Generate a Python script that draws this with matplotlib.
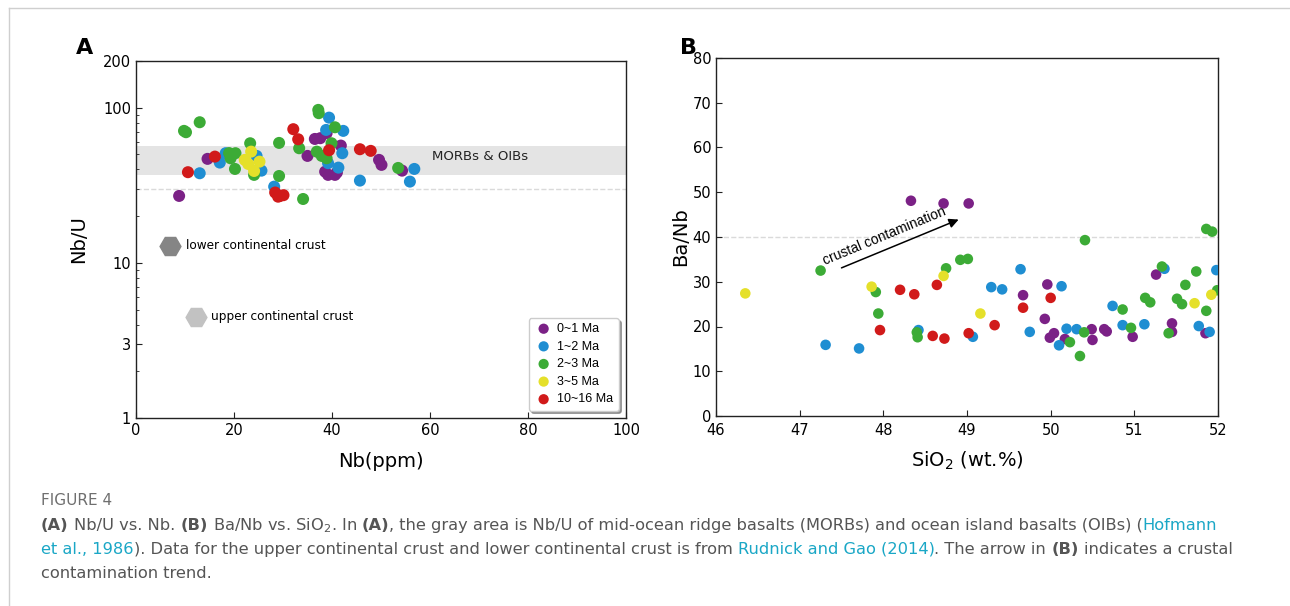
import numpy as np
import matplotlib.pyplot as plt
from matplotlib import font_manager
from matplotlib.lines import Line2D
from matplotlib.ticker import FixedLocator, LogLocator, NullFormatter, FuncFormatter

# ---- data, panel A (Nb vs Nb/U) ----
age_labels = ['0~1 Ma', '1~2 Ma', '2~3 Ma', '3~5 Ma', '10~16 Ma']
age_colors = ['#7b2186', '#1f8ed2', '#3cab36', '#e5e02a', '#d11a1a']

a_p_nb = [8.8, 14.6, 35.0, 36.5, 37.6, 38.9, 41.8, 38.6, 39.2, 40.6, 41.0, 49.6, 50.1, 54.3]
a_p_nbu = [27.0, 46.8, 48.9, 62.9, 63.6, 68.5, 57.0, 38.7, 36.9, 36.9, 38.2, 46.1, 42.8, 39.3]
a_b_nb = [13.0, 17.1, 18.3, 24.6, 25.6, 28.2, 38.8, 39.4, 42.3, 42.1, 39.2, 41.3, 45.7, 56.8, 55.9]
a_b_nbu = [37.8, 44.3, 50.9, 48.9, 39.3, 31.0, 71.9, 86.3, 70.9, 50.9, 43.9, 41.1, 33.9, 40.3, 33.4]
a_g_nb = [10.2, 9.8, 13.0, 19.3, 20.3, 20.2, 23.3, 24.1, 29.2, 29.2, 37.2, 37.3, 40.6, 39.9,
          33.3, 36.9, 37.9, 38.9, 34.1, 53.5, 19.0]
a_g_nbu = [69.5, 70.9, 80.6, 47.2, 50.9, 40.3, 59.0, 36.9, 59.3, 36.3, 96.8, 92.2, 74.8, 59.0,
           54.8, 52.1, 48.9, 47.2, 25.8, 40.9, 51.0]
a_y_nb = [22.2, 23.5, 25.2, 24.1, 22.9]
a_y_nbu = [46.1, 52.1, 44.9, 39.1, 43.4]
a_r_nb = [10.6, 16.1, 28.4, 29.0, 29.4, 30.1, 32.1, 33.1, 39.4, 45.7, 47.9]
a_r_nbu = [38.4, 48.4, 28.4, 26.7, 27.0, 27.3, 72.7, 62.6, 53.2, 54.0, 52.7]

morb_range = (37, 57)
a_ref_line = 30
lcc = (7.0, 12.9)
ucc = (12.2, 4.48)

# ---- data, panel B (SiO2 vs Ba/Nb) ----
b_p_si = [48.33, 48.72, 49.02, 49.96, 49.67, 49.93, 49.99, 50.04, 50.17, 50.49, 50.50, 50.64,
          50.67, 50.98, 51.26, 51.45, 51.45, 51.85]
b_p_ba = [48.1, 47.5, 47.5, 29.4, 27.0, 21.7, 17.5, 18.5, 17.2, 19.4, 17.0, 19.4,
          18.9, 17.7, 31.6, 20.7, 18.8, 18.5]
b_b_si = [47.31, 47.71, 48.42, 49.07, 49.29, 49.42, 49.64, 50.13, 49.75, 50.10, 50.19, 50.31,
          50.74, 50.86, 51.12, 51.36, 51.98, 51.77, 51.90]
b_b_ba = [15.9, 15.1, 19.2, 17.7, 28.8, 28.3, 32.8, 29.0, 18.8, 15.8, 19.5, 19.4,
          24.6, 20.3, 20.5, 32.9, 32.6, 20.1, 18.8]
b_g_si = [47.25, 47.91, 47.94, 48.40, 48.41, 48.75, 48.92, 49.01, 50.41, 51.86, 51.93, 50.23,
          50.40, 50.35, 50.86, 50.96, 51.13, 51.19, 51.33, 51.51, 51.57, 51.61, 51.74, 51.99,
          51.86, 51.41]
b_g_ba = [32.5, 27.7, 22.9, 18.7, 17.6, 33.0, 34.9, 35.1, 39.3, 41.8, 41.2, 16.5,
          18.7, 13.4, 23.8, 19.7, 26.4, 25.4, 33.4, 26.2, 25.0, 29.3, 32.3, 28.1,
          23.5, 18.5]
b_y_si = [46.35, 47.86, 48.72, 49.16, 51.72, 51.92]
b_y_ba = [27.4, 28.9, 31.3, 22.9, 25.2, 27.1]
b_r_si = [47.96, 48.20, 48.37, 48.59, 48.73, 48.64, 49.02, 49.33, 50.00, 49.67]
b_r_ba = [19.2, 28.2, 27.2, 17.9, 17.3, 29.3, 18.5, 20.3, 26.4, 24.2]

b_ref_line = 40
arrow_start = (47.50, 33.1)
arrow_end = (48.90, 43.9)


def has_font(name):
    try:
        font_manager.findfont(name, fallback_to_default=False)
        return True
    except ValueError:
        return False


W, H = 1290, 606
fig = plt.figure(figsize=(W / 100, H / 100), dpi=100)
fig.patch.set_facecolor('white')
plt.rcParams['font.family'] = 'DejaVu Sans'
sans2 = 'Liberation Sans'

# ================= panel A =================
axA = fig.add_axes([136 / W, 1 - 418 / H, 490 / W, 357 / H])
axA.set_yscale('log')
axA.axhspan(morb_range[0], morb_range[1], color='#e4e4e4', zorder=0, lw=0)
axA.axhline(a_ref_line, ls='--', color='#dadada', lw=1, zorder=0)

groupsA = [(a_p_nb, a_p_nbu), (a_b_nb, a_b_nbu), (a_g_nb, a_g_nbu), (a_y_nb, a_y_nbu), (a_r_nb, a_r_nbu)]
for (xs, ys), c, lab in zip(groupsA, age_colors, age_labels):
    axA.scatter(xs, ys, s=75, color=c, label=lab, edgecolors='none', zorder=3)

axA.plot([lcc[0]], [lcc[1]], marker='H', ms=15, color='#858585', ls='none', zorder=3)
axA.plot([ucc[0]], [ucc[1]], marker='H', ms=15, color='#c2c2c2', ls='none', zorder=3)
axA.text(lcc[0] + 3.2, lcc[1], 'lower continental crust', fontsize=8.7, va='center', ha='left')
axA.text(ucc[0] + 3.1, ucc[1], 'upper continental crust', fontsize=8.7, va='center', ha='left')
axA.text(60.4, 48.2, 'MORBs & OIBs', fontsize=9.5, va='center', ha='left', color='#222222')

axA.set_xlim(0, 100)
axA.set_ylim(1, 200)
axA.set_xticks([0, 20, 40, 60, 80, 100])
axA.yaxis.set_major_locator(FixedLocator([1, 3, 10, 100, 200]))
axA.yaxis.set_major_formatter(FuncFormatter(lambda v, p: '%g' % v))
axA.yaxis.set_minor_locator(LogLocator(base=10, subs=np.arange(2, 10)))
axA.yaxis.set_minor_formatter(NullFormatter())
axA.tick_params(which='both', direction='in', labelsize=10.5, color='#222222')
axA.tick_params(which='major', length=4)
axA.tick_params(which='minor', length=2.5)
axA.set_xlabel('Nb(ppm)', fontsize=14)
axA.set_ylabel('Nb/U', fontsize=14)
axA.xaxis.set_label_coords(0.5, -0.095)
axA.yaxis.set_label_coords(-0.098, 0.5)

leg = axA.legend(loc='lower right', shadow=True, fancybox=True,
                 prop={'family': sans2, 'size': 9}, handletextpad=0.3,
                 borderaxespad=0.6, labelspacing=0.45, markerscale=0.85,
                 framealpha=1, edgecolor='#cccccc', handlelength=1.6)
fig.text(85 / W, 1 - 48 / H, 'A', fontsize=16, fontweight='bold', ha='center', va='center')

# ================= panel B =================
axB = fig.add_axes([716 / W, 1 - 416 / H, 502 / W, 358 / H])
axB.axhline(b_ref_line, ls='--', color='#dadada', lw=1, zorder=0)
groupsB = [(b_p_si, b_p_ba), (b_b_si, b_b_ba), (b_g_si, b_g_ba), (b_y_si, b_y_ba), (b_r_si, b_r_ba)]
for (xs, ys), c in zip(groupsB, age_colors):
    axB.scatter(xs, ys, s=58, color=c, edgecolors='none', zorder=3)

axB.annotate('', xy=arrow_end, xytext=arrow_start,
             arrowprops=dict(arrowstyle='-|>', color='black', lw=1.1, mutation_scale=14,
                             shrinkA=0, shrinkB=0))
axB.text(48.01, 40.1, 'crustal contamination', fontsize=10, family=sans2,
         rotation=22.5, rotation_mode='anchor', ha='center', va='center')

axB.set_xlim(46, 52)
axB.set_ylim(0, 80)
axB.set_xticks(range(46, 53))
axB.set_yticks(range(0, 81, 10))
axB.tick_params(direction='in', length=4, labelsize=10.5, color='#222222')
axB.tick_params(axis='x', pad=5)
# the 0 label sits just above the 46 label, as in the source figure
axB.get_yticklabels()[0].set_va('center_baseline')
axB.set_xlabel('SiO$_2$ (wt.%)', fontsize=14)
axB.set_ylabel('Ba/Nb', fontsize=14)
axB.xaxis.set_label_coords(0.5, -0.095)
axB.yaxis.set_label_coords(-0.052, 0.5)
fig.text(688 / W, 1 - 48 / H, 'B', fontsize=16, fontweight='bold', ha='center', va='center')

for ax in (axA, axB):
    for sp in ax.spines.values():
        sp.set_color('#222222')
        sp.set_linewidth(1)

# ================= card border + caption =================
fig.add_artist(Line2D([9 / W, 1], [1 - 8 / H, 1 - 8 / H], color='#cfcfcf', lw=1))
fig.add_artist(Line2D([9 / W, 9 / W], [0, 1 - 8 / H], color='#cfcfcf', lw=1))

cap_font = 'Liberation Sans Narrow' if has_font('Liberation Sans Narrow') else 'DejaVu Sans'
cap_color = '#555555'
link_color = '#1aa7c6'
renderer = fig.canvas.get_renderer()


def text_w(s, size, weight='normal'):
    t = fig.text(0, 0, s, fontsize=size, fontweight=weight, family=cap_font)
    w = t.get_window_extent(renderer).width
    t.remove()
    return w


def run_w(s, size, weight='normal'):
    return text_w('|' + s + '|', size, weight) - text_w('||', size, weight)


line1 = [('(A)', 'b'), (' Nb/U vs. Nb. ', 'n'), ('(B)', 'b'), (' Ba/Nb vs. SiO$_2$. In ', 'n'),
         ('(A)', 'b'), (', the gray area is Nb/U of mid-ocean ridge basalts (MORBs) and ocean island basalts (OIBs) (', 'n'),
         ('Hofmann', 'l')]
line2 = [('et al., 1986', 'l'), ('). Data for the upper continental crust and lower continental crust is from ', 'n'),
         ('Rudnick and Gao (2014)', 'l'), ('. The arrow in ', 'n'), ('(B)', 'b'), (' indicates a crustal', 'n')]
line3 = [('contamination trend.', 'n')]


def line_width(runs, size):
    return sum(run_w(t, size, 'bold' if k == 'b' else 'normal') for t, k in runs)


def draw_runs(runs, x_px, base_px, size):
    x = x_px
    for t, k in runs:
        weight = 'bold' if k == 'b' else 'normal'
        color = link_color if k == 'l' else cap_color
        lead = len(t) - len(t.lstrip(' '))
        off = run_w(' ' * lead, size, weight) if lead else 0
        fig.text((x + off) / W, 1 - base_px / H, t.lstrip(' '), fontsize=size, fontweight=weight,
                 family=cap_font, color=color, ha='left', va='baseline')
        x += run_w(t, size, weight)


cap_size = 10 * (1220 - 41) / line_width(line1, 10)
draw_runs(line1, 41, 530, cap_size)
draw_runs(line2, 41, 554, cap_size)
draw_runs(line3, 41, 578, cap_size)

fig.text(41 / W, 1 - 505 / H, 'FIGURE 4', fontsize=11, family=cap_font,
         color='#6f6f6f', ha='left', va='baseline')

fig.savefig('out.png', dpi=100)
